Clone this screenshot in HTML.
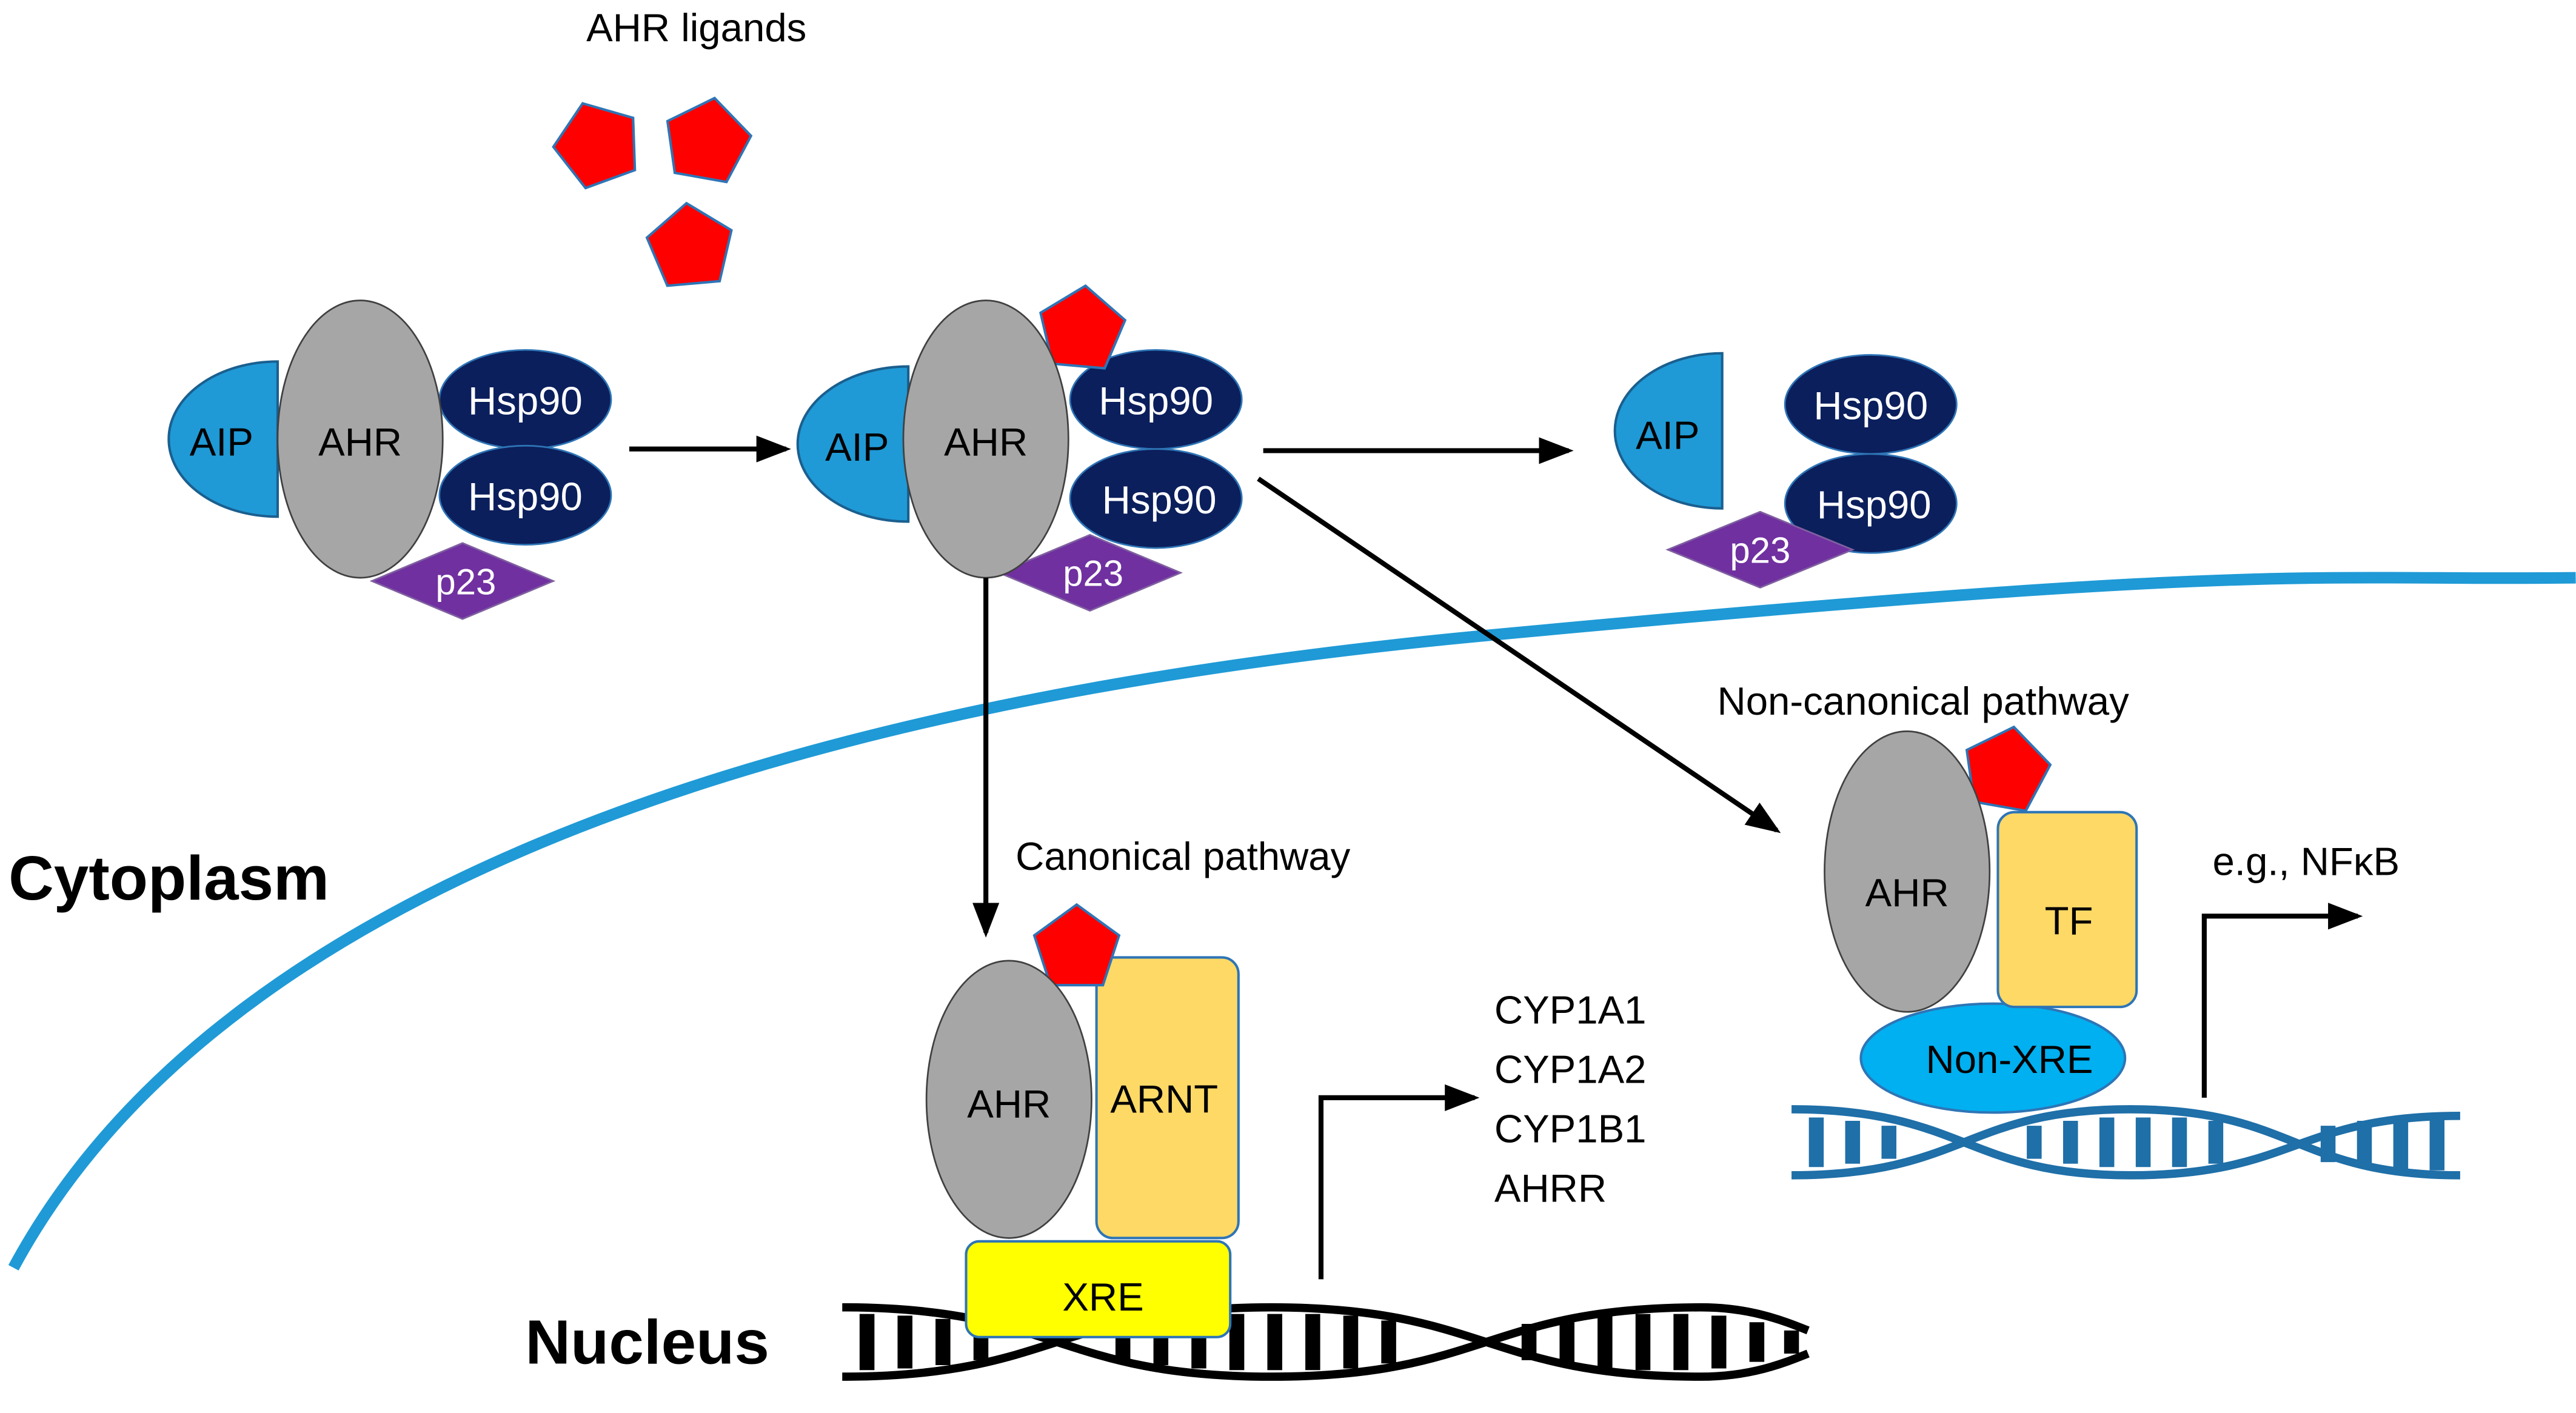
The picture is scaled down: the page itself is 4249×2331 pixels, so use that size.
<!DOCTYPE html>
<html><head><meta charset="utf-8"><style>
html,body{margin:0;padding:0;background:#fff;}
svg{display:block;}
text{font-family:"Liberation Sans",sans-serif;}
</style></head><body>
<svg width="4249" height="2331" viewBox="0 0 1560 856" xmlns="http://www.w3.org/2000/svg">
<defs>
<marker id="ah" markerWidth="7" markerHeight="7" refX="6" refY="3.5" orient="auto" markerUnits="strokeWidth">
<path d="M0,0.8 L7,3.5 L0,6.2 Z" fill="#000"/></marker>
<g id="pent"><polygon points="0,-27 25.7,-8.3 15.9,21.8 -15.9,21.8 -25.7,-8.3" fill="#ff0000" stroke="#2e75b6" stroke-width="1.5"/></g>
</defs>

<path d="M8,768 C 120,560 420,430 900,385 S 1400,352 1560,350" fill="none" stroke="#1f9ad6" stroke-width="7"/>

<text x="355" y="25" font-size="24">AHR ligands</text>
<use href="#pent" transform="translate(362,88) rotate(-20)"/>
<use href="#pent" transform="translate(428,86) rotate(10)"/>
<use href="#pent" transform="translate(418,150) rotate(-5)"/>

<!-- complex 1 -->
<path d="M168,219 A66,47 0 0 0 168,313 Z" fill="#1f9ad6" stroke="#1a5f8f" stroke-width="1.5"/>
<text x="134" y="276" font-size="24" fill="#000" text-anchor="middle">AIP</text>
<ellipse cx="318" cy="242" rx="52" ry="30" fill="#0b1f5c" stroke="#2e75b6"/>
<ellipse cx="318" cy="300" rx="52" ry="30" fill="#0b1f5c" stroke="#2e75b6"/>
<text x="318" y="251" font-size="24" fill="#fff" text-anchor="middle">Hsp90</text>
<text x="318" y="309" font-size="24" fill="#fff" text-anchor="middle">Hsp90</text>
<polygon points="225,352 280,329 335,352 280,375" fill="#7030a0" stroke="#7f5fa0"/>
<text x="282" y="360" font-size="22" fill="#fff" text-anchor="middle">p23</text>
<ellipse cx="218" cy="266" rx="50" ry="84" fill="#a6a6a6" stroke="#404040"/>
<text x="218" y="276" font-size="24" text-anchor="middle">AHR</text>

<line x1="381" y1="272" x2="476" y2="272" stroke="#000" stroke-width="3" marker-end="url(#ah)"/>

<!-- complex 2 -->
<path d="M550,222 A67,47 0 0 0 550,316 Z" fill="#1f9ad6" stroke="#1a5f8f" stroke-width="1.5"/>
<text x="519" y="279" font-size="24" text-anchor="middle">AIP</text>
<ellipse cx="700" cy="242" rx="52" ry="30" fill="#0b1f5c" stroke="#2e75b6"/>
<ellipse cx="700" cy="302" rx="52" ry="30" fill="#0b1f5c" stroke="#2e75b6"/>
<text x="700" y="251" font-size="24" fill="#fff" text-anchor="middle">Hsp90</text>
<text x="702" y="311" font-size="24" fill="#fff" text-anchor="middle">Hsp90</text>
<polygon points="605,347 660,324 715,347 660,370" fill="#7030a0" stroke="#7f5fa0"/>
<text x="662" y="355" font-size="22" fill="#fff" text-anchor="middle">p23</text>
<use href="#pent" transform="translate(655,200) rotate(5)"/>
<ellipse cx="597" cy="266" rx="50" ry="84" fill="#a6a6a6" stroke="#404040"/>
<text x="597" y="276" font-size="24" text-anchor="middle">AHR</text>

<line x1="765" y1="273" x2="950" y2="273" stroke="#000" stroke-width="3" marker-end="url(#ah)"/>
<line x1="762" y1="290" x2="1076" y2="503" stroke="#000" stroke-width="3" marker-end="url(#ah)"/>
<line x1="597" y1="350" x2="597" y2="565" stroke="#000" stroke-width="3" marker-end="url(#ah)"/>

<!-- complex 3 -->
<path d="M1043,214 A65,47 0 0 0 1043,308 Z" fill="#1f9ad6" stroke="#1a5f8f" stroke-width="1.5"/>
<text x="1010" y="272" font-size="24" text-anchor="middle">AIP</text>
<ellipse cx="1133" cy="245" rx="52" ry="30" fill="#0b1f5c" stroke="#2e75b6"/>
<ellipse cx="1133" cy="305" rx="52" ry="30" fill="#0b1f5c" stroke="#2e75b6"/>
<text x="1133" y="254" font-size="24" fill="#fff" text-anchor="middle">Hsp90</text>
<text x="1135" y="314" font-size="24" fill="#fff" text-anchor="middle">Hsp90</text>
<polygon points="1010,333 1066,310 1122,333 1066,356" fill="#7030a0" stroke="#7f5fa0"/>
<text x="1066" y="341" font-size="22" fill="#fff" text-anchor="middle">p23</text>

<text x="5" y="545" font-size="38" font-weight="bold">Cytoplasm</text>
<text x="318" y="826" font-size="38" font-weight="bold">Nucleus</text>

<text x="615" y="527" font-size="24">Canonical pathway</text>
<g stroke="#000" fill="none">
<path d="M510,792 C 640,792 640,834 770,834 C 900,834 900,792 1030,792 C 1060,792 1080,800 1095,806" stroke-width="5"/>
<path d="M510,834 C 640,834 640,792 770,792 C 900,792 900,834 1030,834 C 1060,834 1080,826 1095,820" stroke-width="5"/>
<g stroke-width="9">
<line x1="525" y1="796" x2="525" y2="830"/><line x1="548" y1="797" x2="548" y2="829"/><line x1="571" y1="799" x2="571" y2="827"/>
<line x1="594" y1="802" x2="594" y2="824"/><line x1="680" y1="802" x2="680" y2="824"/><line x1="703" y1="799" x2="703" y2="827"/>
<line x1="726" y1="797" x2="726" y2="829"/><line x1="749" y1="796" x2="749" y2="830"/><line x1="772" y1="796" x2="772" y2="830"/>
<line x1="795" y1="796" x2="795" y2="830"/><line x1="818" y1="797" x2="818" y2="829"/><line x1="841" y1="800" x2="841" y2="826"/>
<line x1="926" y1="802" x2="926" y2="824"/><line x1="949" y1="799" x2="949" y2="827"/><line x1="972" y1="797" x2="972" y2="829"/>
<line x1="995" y1="796" x2="995" y2="830"/><line x1="1018" y1="796" x2="1018" y2="830"/><line x1="1041" y1="797" x2="1041" y2="829"/>
<line x1="1064" y1="801" x2="1064" y2="825"/><line x1="1085" y1="806" x2="1085" y2="820"/>
</g></g>
<rect x="585" y="752" width="160" height="58" rx="8" fill="#ffff00" stroke="#2e75b6" stroke-width="1.5"/>
<text x="668" y="794" font-size="24" text-anchor="middle">XRE</text>
<rect x="664" y="580" width="86" height="170" rx="10" fill="#ffd966" stroke="#2e75b6" stroke-width="1.5"/>
<text x="705" y="674" font-size="24" text-anchor="middle">ARNT</text>
<use href="#pent" transform="translate(652,575) rotate(0)"/>
<ellipse cx="611" cy="666" rx="50" ry="84" fill="#a6a6a6" stroke="#404040"/>
<text x="611" y="677" font-size="24" text-anchor="middle">AHR</text>
<polyline points="800,775 800,665 893,665" fill="none" stroke="#000" stroke-width="3" marker-end="url(#ah)"/>
<text x="905" y="620" font-size="24">CYP1A1</text>
<text x="905" y="656" font-size="24">CYP1A2</text>
<text x="905" y="692" font-size="24">CYP1B1</text>
<text x="905" y="728" font-size="24">AHRR</text>

<text x="1040" y="433" font-size="24">Non-canonical pathway</text>
<g stroke="#1f6fa8" fill="none">
<path d="M1085,672 C 1190,672 1190,712 1290,712 C 1390,712 1390,676 1490,676" stroke-width="5"/>
<path d="M1085,712 C 1190,712 1190,672 1290,672 C 1390,672 1390,712 1490,712" stroke-width="5"/>
<g stroke-width="9">
<line x1="1100" y1="677" x2="1100" y2="707"/><line x1="1122" y1="679" x2="1122" y2="705"/><line x1="1144" y1="682" x2="1144" y2="702"/>
<line x1="1232" y1="682" x2="1232" y2="702"/><line x1="1254" y1="679" x2="1254" y2="705"/><line x1="1276" y1="677" x2="1276" y2="707"/>
<line x1="1298" y1="677" x2="1298" y2="707"/><line x1="1320" y1="677" x2="1320" y2="707"/><line x1="1342" y1="679" x2="1342" y2="705"/>
<line x1="1410" y1="682" x2="1410" y2="704"/><line x1="1432" y1="679" x2="1432" y2="707"/><line x1="1454" y1="678" x2="1454" y2="708"/><line x1="1476" y1="677" x2="1476" y2="709"/>
</g></g>
<ellipse cx="1207" cy="641" rx="80" ry="33" fill="#00b0f0" stroke="#2e75b6" stroke-width="1.5"/>
<text x="1217" y="650" font-size="24" text-anchor="middle">Non-XRE</text>
<rect x="1210" y="492" width="84" height="118" rx="10" fill="#ffd966" stroke="#2e75b6" stroke-width="1.5"/>
<text x="1253" y="566" font-size="24" text-anchor="middle">TF</text>
<use href="#pent" transform="translate(1215,467) rotate(10)"/>
<ellipse cx="1155" cy="528" rx="50" ry="85" fill="#a6a6a6" stroke="#404040"/>
<text x="1155" y="549" font-size="24" text-anchor="middle">AHR</text>
<polyline points="1335,665 1335,555 1428,555" fill="none" stroke="#000" stroke-width="3" marker-end="url(#ah)"/>
<text x="1340" y="530" font-size="24">e.g., NFκB</text>
</svg>
</body></html>
